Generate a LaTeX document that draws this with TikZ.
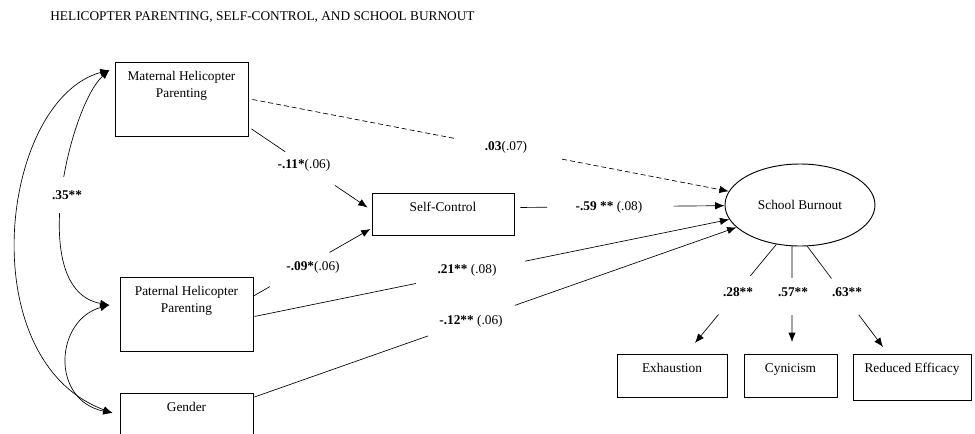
\documentclass[tikz,border=0pt]{standalone}
\usepackage{fontspec}
\setmainfont{Liberation Serif}
\usetikzlibrary{arrows.meta,shapes.geometric,calc}
\newcommand{\splitarrow}[5]{\path #2 -- coordinate[pos=#4] (ga) coordinate[pos=#5] (gb) #3; \draw[#1] #2 -- (ga); \draw[#1, ->] (gb) -- #3;}

\begin{document}
\begin{tikzpicture}[x=0.75pt, y=-0.75pt, >={Latex[length=7pt,width=5.5pt]}, line width=0.5pt,
  box/.style={draw, line width=0.7pt, anchor=north, align=center, inner xsep=0pt, inner ysep=4.5pt, text height=9pt},
  twoline/.style={text height=21.75pt, text depth=24.75pt},
  lab/.style={inner sep=0pt}]
\useasboundingbox (0,0) rectangle (975,433);
\clip (0,0) rectangle (975,433);
\node[anchor=west, inner sep=0pt] (title) at (50,17) {HELICOPTER PARENTING, SELF-CONTROL, AND SCHOOL BURNOUT};
\node[box, twoline, minimum width=99.75pt] (mat) at (181.5,62) {Maternal Helicopter\\[0.75pt]Parenting};
\node[box, minimum width=106.5pt, text depth=13.5pt] (sc) at (443,193) {Self-Control};
\node[box, twoline, minimum width=99.75pt] (pat) at (186.5,277) {Paternal Helicopter\\[0.75pt]Parenting};
\node[box, minimum width=99.75pt, text depth=37.5pt] (gen) at (186.5,393) {Gender};
\node[ellipse, draw, line width=0.7pt, minimum width=112.5pt, minimum height=61.5pt, inner sep=0pt] (sb) at (800,205) {School Burnout};
\node[box, minimum width=82.5pt, text depth=14.25pt] (exh) at (672,354) {Exhaustion};
\node[box, minimum width=69.75pt, text depth=14.25pt] (cyn) at (790.5,354) {Cynicism};
\node[box, minimum width=88.5pt, text depth=16.5pt] (eff) at (912,354) {Reduced Efficacy};
\splitarrow{}{($(mat.south east)+(3,-8)$)}{($(sc.west)+(-4,-7)$)}{0.29}{0.72}
\node[lab] (l11) at (304,165) {\textbf{-.11*}(.06)};
\splitarrow{}{($(pat.north east)+(0,19)$)}{($(sc.south west)+(-1,-7)$)}{0.14}{0.65}
\node[lab] (l09) at (313,267) {\textbf{-.09*}(.06)};
\splitarrow{dash pattern=on 3.75pt off 2.25pt}{($(mat.east)+(4,0)$)}{(sb)}{0.424}{0.65}
\node[lab] (l03) at (506,147) {\textbf{.03}(.07)};
\splitarrow{}{($(sc.east)+(6,-7)$)}{(sb)}{0.13}{0.75}
\node[lab] (l59) at (609,207) {\textbf{-.59 **} (.08)};
\splitarrow{}{($(pat.east)+(1,2)$)}{(sb)}{0.34}{0.57}
\node[lab] (l21) at (467,270) {\textbf{.21**} (.08)};
\splitarrow{}{($(gen.north east)+(1,4)$)}{(sb)}{0.36}{0.54}
\node[lab] (l12) at (471,321) {\textbf{-.12**} (.06)};
\splitarrow{}{(sb.239)}{($(exh.north)+(23,-11)$)}{0.32}{0.71}
\node[lab] (l28) at (738,292) {\textbf{.28**}};
\splitarrow{}{(sb.259)}{($(cyn.north)+(1.5,-12)$)}{0.33}{0.72}
\node[lab] (l57) at (793,292) {\textbf{.57**}};
\splitarrow{}{(sb.280)}{($(eff.north)+(-29,-7)$)}{0.32}{0.68}
\node[lab] (l63) at (847,292) {\textbf{.63**}};
\draw[<->] ($(mat.north west)+(-5,8)$) .. controls (0,100) and (-30,360) .. ($(gen.north west)+(-7,20)$);
\draw[<->] ($(mat.north west)+(-5,8)$) .. controls (70,105) and (25,290) .. ($(pat.north west)+(-10,28)$) node[pos=0.5, fill=white, inner xsep=2pt, inner ysep=10pt, xshift=3pt] (l35) {\textbf{.35**}};
\draw[<->] ($(pat.north west)+(-10,28)$) .. controls (55,320) and (50,400) .. ($(gen.north west)+(-7,20)$);
\end{tikzpicture}
\end{document}
